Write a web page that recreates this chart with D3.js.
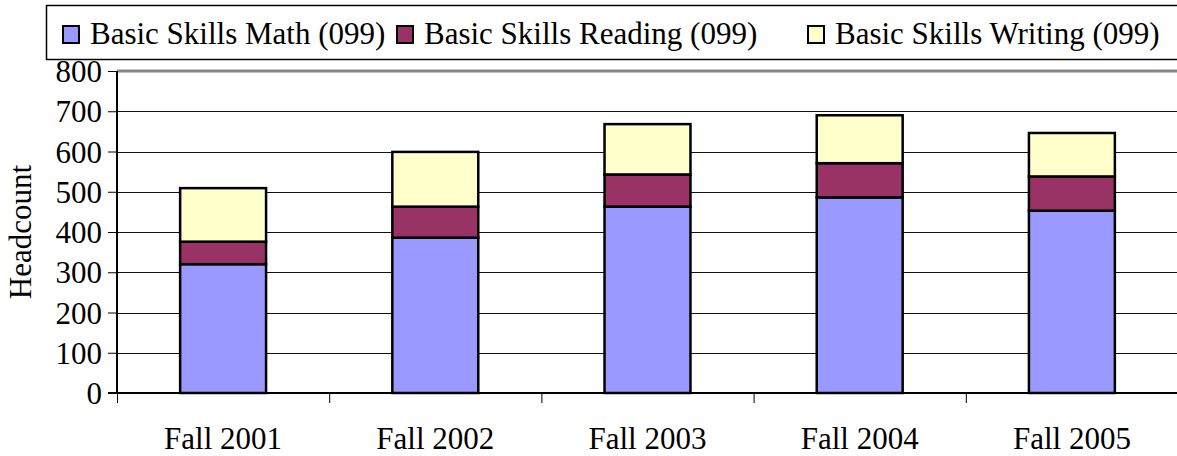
<!DOCTYPE html>
<html>
<head>
<meta charset="utf-8">
<script src="https://cdn.jsdelivr.net/npm/d3@7"></script>
<style>
  body { margin: 0; background: #fff; }
  text { font-family: "Liberation Serif", "Times New Roman", serif; fill: #000; }
</style>
</head>
<body>
<div id="chart"></div>
<script>
var CATEGORIES = ['Fall 2001', 'Fall 2002', 'Fall 2003', 'Fall 2004', 'Fall 2005'];
var SERIES = ['Basic Skills Math (099)', 'Basic Skills Reading (099)', 'Basic Skills Writing (099)'];
var MATH = [320, 386, 463, 486, 453];
var READING = [56, 77, 80, 85, 85];
var WRITING = [133, 136, 125, 119, 108];
var Y_TICKS = [0, 100, 200, 300, 400, 500, 600, 700, 800];
var COLORS = ['#9999ff', '#993366', '#ffffcc'];

var w = 1177, h = 456,
    plotL = 117, plotR = 1178, plotT = 71, plotB = 393;

var svg = d3.select('#chart').append('svg')
    .attr('width', w)
    .attr('height', h);

var x = d3.scaleBand()
    .domain(CATEGORIES)
    .range([plotL, plotR]);

var y = d3.scaleLinear()
    .domain([0, 800])
    .range([plotB, plotT]);

var rows = CATEGORIES.map(function(c, i) {
    return { cat: c, m: MATH[i], r: READING[i], wr: WRITING[i] };
});
var stack = d3.stack().keys(['m', 'r', 'wr'])(rows);

// gridlines
svg.append('g')
    .selectAll('line')
    .data(Y_TICKS.slice(1, -1))
    .enter()
    .append('line')
    .attr('x1', plotL)
    .attr('x2', plotR)
    .attr('y1', function(d) { return Math.round(y(d)) + 0.5; })
    .attr('y2', function(d) { return Math.round(y(d)) + 0.5; })
    .attr('stroke', '#111')
    .attr('stroke-width', 1);

// top border of plot area
svg.append('line')
    .attr('x1', plotL).attr('x2', plotR)
    .attr('y1', y(800)).attr('y2', y(800))
    .attr('stroke', '#888').attr('stroke-width', 3);

// bars
var barW = x.bandwidth() * 0.405;
var layers = svg.selectAll('g.layer')
    .data(stack)
    .enter()
    .append('g')
    .attr('class', 'layer')
    .attr('fill', function(d, i) { return COLORS[i]; });

layers.selectAll('rect')
    .data(function(d) { return d; })
    .enter()
    .append('rect')
    .attr('x', function(d) { return x(d.data.cat) + (x.bandwidth() - barW) / 2; })
    .attr('y', function(d) { return y(d[1]); })
    .attr('width', barW)
    .attr('height', function(d) { return y(d[0]) - y(d[1]); })
    .attr('stroke', '#000')
    .attr('stroke-width', 2.5);

// y axis
var yAxis = d3.axisLeft(y)
    .tickValues(Y_TICKS)
    .tickSize(9)
    .tickPadding(6);
var gy = svg.append('g')
    .attr('transform', 'translate(' + plotL + ',0)')
    .call(yAxis);
gy.select('.domain').attr('stroke', '#000').attr('stroke-width', 2).attr('d', 'M0,' + plotT + 'V' + (plotB + 1));
gy.selectAll('.tick line').attr('stroke', '#000');
gy.selectAll('.tick text').attr('font-size', 31).attr('dy', '0.34em');

// x axis
svg.append('line')
    .attr('x1', plotL - 9).attr('x2', plotR)
    .attr('y1', plotB).attr('y2', plotB)
    .attr('stroke', '#000').attr('stroke-width', 2);

svg.append('g')
    .selectAll('line')
    .data(CATEGORIES)
    .enter()
    .append('line')
    .attr('x1', function(d) { return x(d) + 0.5; })
    .attr('x2', function(d) { return x(d) + 0.5; })
    .attr('y1', plotB)
    .attr('y2', plotB + 10)
    .attr('stroke', '#000');

svg.append('g')
    .selectAll('text')
    .data(CATEGORIES)
    .enter()
    .append('text')
    .text(function(d) { return d; })
    .attr('x', function(d) { return x(d) + x.bandwidth() / 2; })
    .attr('y', 449)
    .attr('text-anchor', 'middle')
    .attr('font-size', 31);

// y title
svg.append('text')
    .text('Headcount')
    .attr('transform', 'translate(31,232) rotate(-90)')
    .attr('text-anchor', 'middle')
    .attr('font-size', 31);

// legend
svg.append('rect')
    .attr('x', 46.5).attr('y', 5.5)
    .attr('width', 1140).attr('height', 54)
    .attr('fill', '#fff')
    .attr('stroke', '#000')
    .attr('stroke-width', 1.5);

var legendX = [63, 397, 808];
var leg = svg.selectAll('g.leg')
    .data(SERIES)
    .enter()
    .append('g')
    .attr('class', 'leg')
    .attr('transform', function(d, i) { return 'translate(' + legendX[i] + ',0)'; });

leg.append('rect')
    .attr('x', 0).attr('y', 26)
    .attr('width', 16).attr('height', 17)
    .attr('fill', function(d, i) { return COLORS[i]; })
    .attr('stroke', '#000')
    .attr('stroke-width', 2);

leg.append('text')
    .text(function(d) { return d; })
    .attr('x', 27)
    .attr('y', 44)
    .attr('font-size', 31);
</script>
</body>
</html>
